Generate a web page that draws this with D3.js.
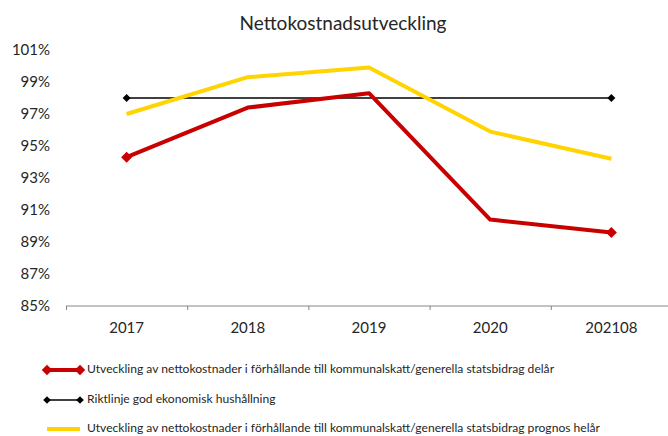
<!DOCTYPE html>
<html>
<head>
<meta charset="utf-8">
<script src="https://cdn.jsdelivr.net/npm/d3@7"></script>
<style>
  body { margin: 0; background: #fff; }
  svg text { font-family: Lato, "Open Sans", sans-serif; fill: #262626; }
</style>
</head>
<body>
<svg id="chart" width="668" height="436"></svg>
<script>
// chart data
var years = ["2017", "2018", "2019", "2020", "202108"];
var delar = [94.3, 97.4, 98.3, 90.4, 89.6];
var riktlinje = [98, 98, 98, 98, 98];
var prognos = [97.0, 99.3, 99.9, 95.9, 94.2];
var yTicks = [85, 87, 89, 91, 93, 95, 97, 99, 101];

var series = [
    {name: "Utveckling av nettokostnader i förhållande till kommunalskatt/generella statsbidrag delår",
     values: delar, color: "#C80000", width: 4, marker: 11},
    {name: "Riktlinje god ekonomisk hushållning",
     values: riktlinje, color: "#000000", width: 1.5, marker: 8},
    {name: "Utveckling av nettokostnader i förhållande till kommunalskatt/generella statsbidrag prognos helår",
     values: prognos, color: "#FFD400", width: 4, marker: 0}
];

var svg = d3.select("#chart");

var x = d3.scaleBand().domain(years).range([66, 672]).padding(0);
var y = d3.scaleLinear().domain([85, 101]).range([306, 50]);
var cx = function(d) { return x(d) + x.bandwidth() / 2; };

svg.append("text")
    .attr("x", 343).attr("y", 30)
    .attr("text-anchor", "middle")
    .attr("font-size", 19)
    .text("Nettokostnadsutveckling");

// y axis labels only
svg.append("g")
    .attr("transform", "translate(50,0)")
    .call(d3.axisLeft(y).tickValues(yTicks).tickSize(0).tickPadding(0)
        .tickFormat(function(d) { return d + "%"; }))
    .call(function(g) {
        g.select(".domain").remove();
        g.selectAll("text").attr("font-size", 15).attr("font-family", "Lato").attr("fill", "#262626");
    });

// x axis with ticks between categories
var xa = svg.append("g").attr("transform", "translate(0,306)");
xa.append("line")
    .attr("x1", 66).attr("x2", 672)
    .attr("stroke", "#868686").attr("stroke-width", 1);
xa.selectAll(".tk").data(years).enter().append("line")
    .attr("x1", function(d) { return x(d) + 0.5; }).attr("x2", function(d) { return x(d) + 0.5; })
    .attr("y1", 0).attr("y2", 4)
    .attr("stroke", "#868686");
xa.selectAll(".lbl").data(years).enter().append("text")
    .attr("x", cx).attr("y", 27)
    .attr("text-anchor", "middle")
    .attr("font-size", 15)
    .text(function(d) { return d; });

var line = d3.line()
    .x(function(d, i) { return cx(years[i]); })
    .y(function(d) { return y(d); });

var diamond = function(s) {
    return "M0," + (-s / 2) + "L" + (s / 2) + ",0L0," + (s / 2) + "L" + (-s / 2) + ",0Z";
};

// draw order: black first, then yellow, red on top
[series[1], series[2], series[0]].forEach(function(s) {
    svg.append("path")
        .datum(s.values)
        .attr("d", line)
        .attr("fill", "none")
        .attr("stroke", s.color)
        .attr("stroke-width", s.width)
        .attr("stroke-linejoin", "round");
    if (s.marker) {
        var ends = [0, s.values.length - 1];
        svg.selectAll(null).data(ends).enter().append("path")
            .attr("d", diamond(s.marker))
            .attr("transform", function(i) { return "translate(" + cx(years[i]) + "," + y(s.values[i]) + ")"; })
            .attr("fill", s.color);
    }
});

// legend
var leg = svg.append("g");
var legY = [370, 400, 429];
series.forEach(function(s, i) {
    var g = leg.append("g").attr("transform", "translate(0," + legY[i] + ")");
    g.append("line")
        .attr("x1", 47).attr("x2", 80)
        .attr("stroke", s.color).attr("stroke-width", s.width);
    if (s.marker) {
        [47, 80].forEach(function(px) {
            g.append("path").attr("d", diamond(s.marker * 0.95))
                .attr("transform", "translate(" + px + ",0)")
                .attr("fill", s.color);
        });
    }
    g.append("text")
        .attr("x", 87).attr("y", 3)
        .attr("font-size", 12.1)
        .text(s.name);
});
</script>
</body>
</html>
